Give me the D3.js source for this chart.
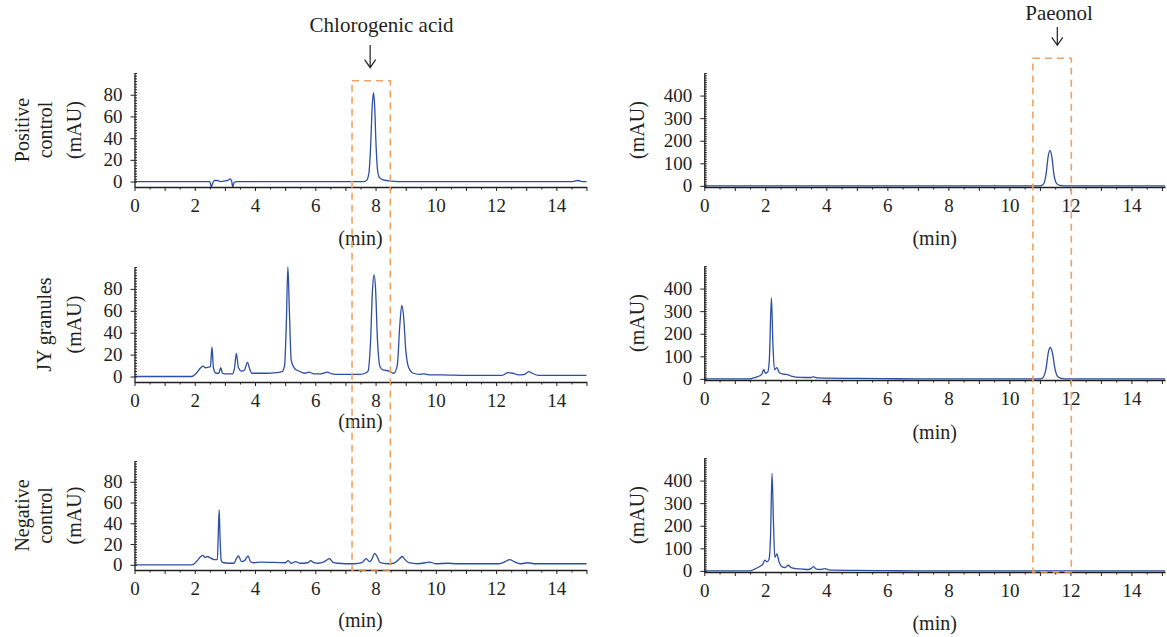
<!DOCTYPE html>
<html>
<head>
<meta charset="utf-8">
<script src="https://cdn.jsdelivr.net/npm/d3@7"></script>
<style>
  body { margin: 0; background: #fff; }
  svg text { font-family: "Liberation Serif", "Times New Roman", serif; fill: #231f20; }
</style>
</head>
<body>
<svg id="chart" width="1167" height="637"></svg>
<script>
// chromatogram traces, [time (min), absorbance (mAU)]
var posControlCGA = [[0,0],[2.5,0],[2.55,-5],[2.6,-1],[2.65,1],[2.75,1],[2.85,0],[3.1,1],[3.17,2.5],[3.22,1],[3.26,-5],[3.3,-1],[3.4,0],
  [7.6,0],[7.7,1],[7.78,8],[7.84,35],[7.89,70],[7.93,82],[7.97,70],[8.01,38],[8.06,12],[8.12,4],[8.25,1.5],[8.5,0.5],[9,0],
  [14.5,0],[14.7,1],[14.9,0],[15,0]]
var jyGranulesCGA = [[0,0],[1.9,0],[2.05,3],[2.2,8],[2.28,9.5],[2.35,8],[2.45,8.5],[2.52,9],[2.57,27],[2.62,8],[2.7,3],[2.8,3],
  [2.86,8],[2.92,3],[3.0,2.5],[3.25,2.5],[3.32,8],[3.38,21],[3.45,8],[3.55,5],[3.65,6],[3.75,13],[3.82,7],[3.9,3],[4.4,3],
  [4.7,3.5],[4.9,4.5],[4.98,10],[5.04,50],[5.09,100],[5.14,60],[5.2,15],[5.3,8],[5.45,5],[5.65,3],[5.8,4],[5.95,2.5],[6.2,2.5],
  [6.4,4],[6.55,2.5],[6.8,2],[7.5,2],[7.65,3],[7.75,5],[7.83,30],[7.9,80],[7.95,93],[8.0,80],[8.06,35],[8.15,9],[8.25,6],
  [8.45,5],[8.6,3],[8.72,10],[8.8,45],[8.87,65],[8.93,55],[9.0,25],[9.1,8],[9.25,3],[9.45,2],[9.6,2.5],[9.8,1.5],[10.2,1.5],
  [11,1],[12.2,1],[12.4,3.5],[12.55,3],[12.75,1.5],[12.95,2],[13.08,4.5],[13.2,3],[13.4,1],[15,1]]
var negControlCGA = [[0,0],[1.9,0],[2.05,3],[2.2,8],[2.27,9],[2.35,7],[2.42,8],[2.5,7],[2.65,5],[2.75,5],[2.78,30],[2.81,53],
  [2.84,25],[2.88,4],[2.95,2],[3.3,1.5],[3.38,6],[3.45,8.5],[3.55,3],[3.65,4],[3.77,8.5],[3.85,3],[3.95,2],[4.2,2.5],[5.0,2],
  [5.1,4],[5.2,1.5],[5.35,3],[5.5,1.5],[5.75,2],[5.85,4],[5.95,2],[6.1,1.5],[6.3,3],[6.47,6],[6.6,2],[6.75,1.5],[7.3,1],
  [7.55,2],[7.69,6],[7.8,3],[7.87,5],[7.97,11],[8.05,8],[8.15,2],[8.4,1],[8.6,1.5],[8.8,6],[8.88,8],[8.98,5],[9.1,2],[9.4,1],
  [9.8,2.5],[10.0,1],[10.4,1.5],[10.7,1],[12.1,1],[12.3,3],[12.45,5],[12.6,3],[12.8,1],[13.05,2],[13.3,1],[15,1]]

var posControlPae = [[0,0],[11.0,0],[11.1,5],[11.2,50],[11.27,130],[11.33,157],[11.39,130],[11.46,50],[11.55,10],[11.65,2],
  [11.8,0],[15.1,0]]
var jyGranulesPae = [[0,0],[1.5,0],[1.6,4],[1.75,10],[1.88,20],[1.95,42],[2.0,25],[2.08,30],[2.13,80],[2.2,360],[2.25,150],
  [2.3,40],[2.38,50],[2.45,30],[2.55,22],[2.65,20],[2.75,18],[2.85,12],[3.0,8],[3.3,6],[3.5,6],[3.58,9],[3.7,4],[4.0,3],
  [5,2],[6,1],[7,0],[11.0,0],[11.1,5],[11.2,45],[11.28,120],[11.34,139],[11.41,115],[11.5,40],[11.6,8],[11.75,1],[11.9,0],[15.1,0]]
var negControlPae = [[0,0],[1.5,0],[1.65,8],[1.8,18],[1.92,30],[1.98,48],[2.05,40],[2.12,50],[2.17,150],[2.22,432],[2.27,200],
  [2.31,60],[2.38,75],[2.45,40],[2.55,18],[2.65,15],[2.75,25],[2.85,14],[3.0,10],[3.2,8],[3.4,6],[3.5,10],[3.58,19],[3.67,8],
  [3.8,6],[3.95,10],[4.05,6],[4.2,3],[5,2],[6,1],[7,0],[15.1,0]]

var rowLabels = [["Positive", "control"], ["JY granules"], ["Negative", "control"]]
var xTickLabels = [0, 2, 4, 6, 8, 10, 12, 14]
var leftYTicks = [0, 20, 40, 60, 80]
var rightYTicks = [0, 100, 200, 300, 400]
var compoundNames = ["Chlorogenic acid", "Paeonol"]
// highlight windows (min) and arrow / label position (min)
var windowStart = [7.22, 10.77]
var windowEnd = [8.49, 12.03]
var arrowTime = [7.82, 11.57]
var nameTime = [8.2, 11.63]

var svg = d3.select("#chart")
var blue = "#2d4ea3"
var orange = "#f0a262"

// panel geometry
var cols = [
  { x0: 134.5, x1: 586.5, xMax: 15, yDomain: [-5, 100], yTicks: leftYTicks, minor: 2.5, unitX: 74 },
  { x0: 704.3, x1: 1165, xMax: 15.1, yDomain: [-5, 500], yTicks: rightYTicks, minor: 10, unitX: 637 }
]
var rows = [
  [{ top: 73, bottom: 187, minY: 238 }, { top: 73, bottom: 187, minY: 238 }],
  [{ top: 267, bottom: 382, minY: 421 }, { top: 266, bottom: 380, minY: 432 }],
  [{ top: 461, bottom: 570, minY: 620 }, { top: 458, bottom: 572, minY: 623 }]
]
var traces = [[posControlCGA, posControlPae], [jyGranulesCGA, jyGranulesPae], [negControlCGA, negControlPae]]

var xScales = cols.map(c => d3.scaleLinear().domain([0, c.xMax]).range([c.x0, c.x1]))

rows.forEach(function (row, r) {
  row.forEach(function (p, c) {
    var col = cols[c]
    var x = xScales[c]
    var y = d3.scaleLinear().domain(col.yDomain).range([p.bottom, p.top])
    var g = svg.append("g").attr("class", "panel")

    // trace
    g.append("path")
      .datum(traces[r][c])
      .attr("fill", "none")
      .attr("stroke", blue)
      .attr("stroke-width", 1.3)
      .attr("stroke-linejoin", "round")
      .attr("d", d3.line().x(d => x(d[0])).y(d => y(d[1])).curve(d3.curveMonotoneX))

    // x axis
    var xAxis = g.append("g")
      .attr("transform", "translate(0," + p.bottom + ")")
      .call(d3.axisBottom(x)
        .tickValues(d3.range(0, 15.01, 0.5))
        .tickSize(5).tickSizeOuter(0).tickPadding(7)
        .tickFormat(d => xTickLabels.indexOf(d) >= 0 ? d : ""))
    xAxis.selectAll(".tick line").attr("y2", d => (d % 1 === 0 ? 4 : 2.5))
    xAxis.selectAll("text").style("font-size", "19px").attr("fill", "#231f20")

    // y axis
    var yAxis = g.append("g")
      .attr("transform", "translate(" + col.x0 + ",0)")
      .call(d3.axisLeft(y).tickValues(col.yTicks).tickSize(4).tickSizeOuter(0).tickPadding(8))
    yAxis.selectAll("text").style("font-size", "19px").attr("fill", "#231f20")
    g.append("g")
      .attr("transform", "translate(" + col.x0 + ",0)")
      .call(d3.axisRight(y).tickValues(d3.range(0, col.yDomain[1] + 0.01, col.minor)).tickSize(2.5).tickSizeOuter(0).tickFormat(""))
      .select(".domain").remove()
    g.selectAll(".domain").attr("stroke", "#231f20").attr("stroke-width", 1.3)
    g.selectAll(".tick line").attr("stroke", "#231f20").attr("stroke-width", 1)

    // titles
    var yc = (p.top + p.bottom) / 2
    g.append("text")
      .attr("transform", "translate(" + col.unitX + "," + yc + ") rotate(-90)")
      .attr("text-anchor", "middle").attr("dominant-baseline", "central")
      .style("font-size", "20px")
      .text("(mAU)")
    g.append("text")
      .attr("x", (col.x0 + col.x1) / 2).attr("y", p.minY)
      .attr("text-anchor", "middle").attr("dominant-baseline", "central")
      .style("font-size", "20px")
      .text("(min)")

    if (c === 0) {
      var lines = rowLabels[r]
      var lx = lines.length === 1 ? [44] : [22, 45]
      lines.forEach(function (t, i) {
        g.append("text")
          .attr("transform", "translate(" + lx[i] + "," + yc + ") rotate(-90)")
          .attr("text-anchor", "middle").attr("dominant-baseline", "central")
          .style("font-size", "20px")
          .text(t)
      })
    }
  })
})

// highlight boxes, arrows and compound names
var boxTop = [80.7, 58.3]
var boxBottom = [570, 572]
var arrowTop = [45, 27]
var nameY = [32, 20]
cols.forEach(function (col, c) {
  var x = xScales[c]
  svg.append("rect")
    .attr("x", x(windowStart[c]))
    .attr("y", boxTop[c])
    .attr("width", x(windowEnd[c]) - x(windowStart[c]))
    .attr("height", boxBottom[c] - boxTop[c])
    .attr("fill", "none")
    .attr("stroke", orange)
    .attr("stroke-width", 1.6)
    .attr("stroke-dasharray", "7,5")

  var ax = x(arrowTime[c])
  var ay = boxTop[c] - 13
  svg.append("path")
    .attr("d", "M" + ax + "," + arrowTop[c] + "V" + ay + "M" + (ax - 5.5) + "," + (ay - 8) + "L" + ax + "," + ay + "L" + (ax + 5.5) + "," + (ay - 8))
    .attr("fill", "none")
    .attr("stroke", "#231f20")
    .attr("stroke-width", 1.2)

  svg.append("text")
    .attr("x", x(nameTime[c]))
    .attr("y", nameY[c])
    .attr("text-anchor", "middle")
    .style("font-size", "21px")
    .text(compoundNames[c])
})
</script>
</body>
</html>
